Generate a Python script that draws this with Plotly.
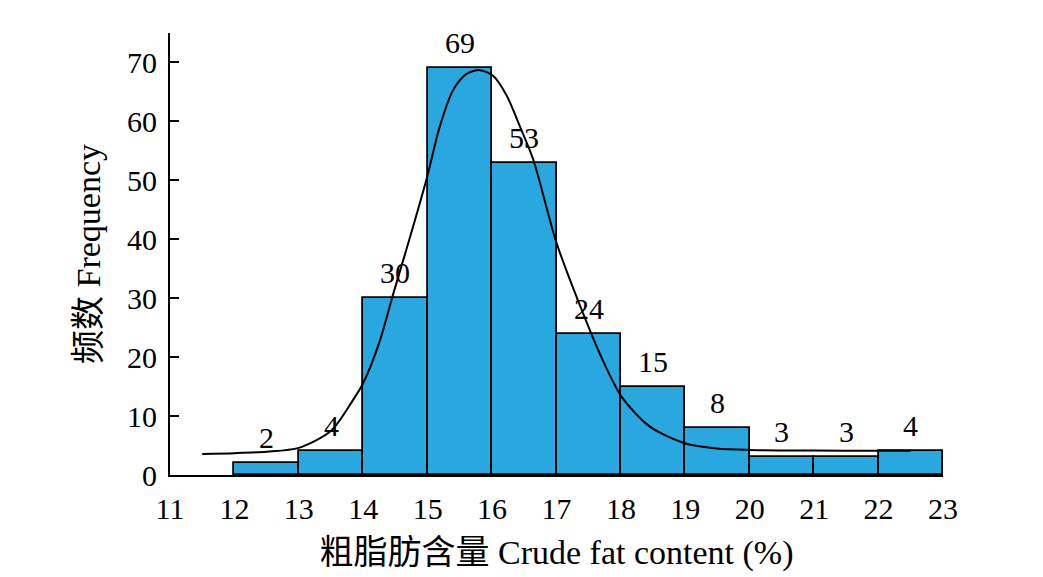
import plotly.graph_objects as go

# Histogram bins (lower edges) and frequencies
bin_left = [12, 13, 14, 15, 16, 17, 18, 19, 20, 21, 22]
counts = [2, 4, 30, 69, 53, 24, 15, 8, 3, 3, 4]
bin_width = 1

# Fitted curve points
curve_x = [11.5, 12.0, 12.5, 13.0, 13.5, 13.84, 14.0, 14.25, 14.47, 14.73, 14.98,
           15.19, 15.40, 15.61, 15.81, 16.02, 16.23, 16.43, 16.64, 17.0, 17.37,
           17.68, 18.01, 18.45, 18.99, 19.49, 20.0, 21.0, 22.0, 22.5]
curve_y = [3.57, 3.7, 3.95, 4.6, 7.5, 12.7, 15.6, 22.5, 30.9, 40.5, 50.1,
           59.2, 65.4, 68.1, 68.7, 67.7, 64.3, 59.2, 53.5, 39.4, 28.6,
           20.4, 13.3, 8.2, 5.4, 4.5, 4.25, 4.14, 4.1, 4.1]

x_ticks = list(range(11, 24))
y_ticks = [0, 10, 20, 30, 40, 50, 60, 70]

x_title = "粗脂肪含量 Crude fat content (%)"
y_title = "频数 Frequency"

FONT = "Liberation Serif, Times New Roman, Noto Sans CJK SC, serif"
BAR_COLOR = "#29A8E0"

centers = [b + bin_width / 2 for b in bin_left]

fig = go.Figure()
fig.add_trace(go.Bar(
    x=centers, y=counts, width=[bin_width] * len(counts),
    marker=dict(color=BAR_COLOR, line=dict(color="black", width=1.8)),
    showlegend=False, hoverinfo="x+y",
))
fig.add_trace(go.Scatter(
    x=curve_x, y=curve_y, mode="lines",
    line=dict(color="black", width=2, shape="spline", smoothing=0.8),
    showlegend=False,
))

for cx, c in zip(centers, counts):
    fig.add_annotation(x=cx, y=c, text=str(c), showarrow=False,
                       yanchor="bottom", yshift=7,
                       font=dict(family=FONT, size=30, color="black"))

fig.update_layout(
    width=1035, height=569,
    margin=dict(l=162, r=100, t=25, b=102),
    paper_bgcolor="white", plot_bgcolor="white",
    font=dict(family=FONT, size=30, color="black"),
    bargap=0,
)
fig.update_xaxes(
    range=[11, 23], tickvals=x_ticks, ticktext=[str(t) for t in x_ticks],
    showline=True, linecolor="black", linewidth=2, ticks="",
    showgrid=False, zeroline=False, ticklabelstandoff=6, automargin=False,
    title=dict(text=x_title, font=dict(family=FONT, size=34), standoff=16),
    tickfont=dict(family=FONT, size=30),
)
fig.update_yaxes(
    range=[0, 75], tickvals=y_ticks,
    showline=True, linecolor="black", linewidth=2,
    ticks="inside", ticklen=9, tickwidth=2, tickcolor="black",
    showgrid=False, zeroline=False, ticklabelstandoff=5, automargin=False,
    title=dict(text=y_title, font=dict(family=FONT, size=34), standoff=16),
    tickfont=dict(family=FONT, size=30),
)

fig.write_html("out.html")
